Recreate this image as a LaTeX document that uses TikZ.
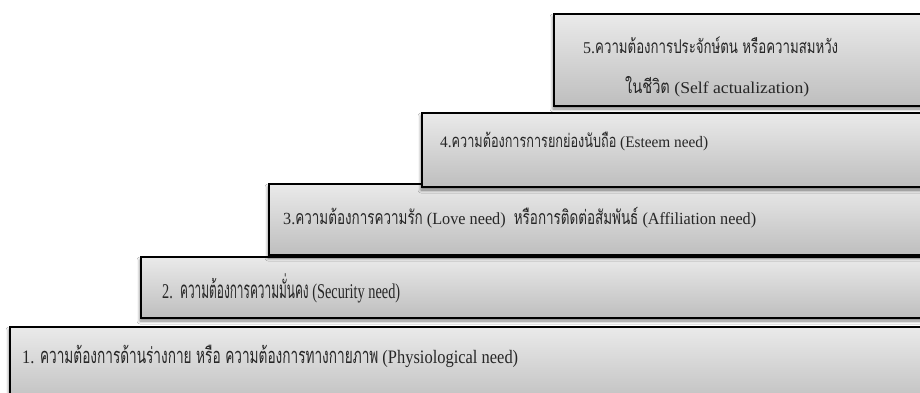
\documentclass[tikz,border=0pt]{standalone}
\usepackage{fontspec}
\usepackage{graphicx}
\setmainfont{Liberation Serif}
\newfontfamily\thaifont[Script=Thai, FakeStretch=0.72, Scale=1.15]{Loma}
\usetikzlibrary{shadows.blur}
\newcommand\thx[1]{{\thaifont #1}}
\newcommand\fitline[2]{\resizebox{#1}{\height}{#2}}
\definecolor{boxtop}{HTML}{EAEAEA}
\definecolor{boxbot}{HTML}{BEBEBE}
\tikzset{
  stepbox/.style={draw=black, line width=1.3pt, top color=boxtop, bottom color=boxbot,
    anchor=north west, inner sep=0pt, outer sep=0pt,
    blur shadow={shadow xshift=-1pt, shadow yshift=-3pt, shadow blur steps=6, shadow opacity=50, shadow blur radius=3pt}},
  steptext/.style={anchor=base west, inner sep=0pt, text=black!85}
}
\begin{document}
\begin{tikzpicture}[x=1pt,y=-1pt]
\useasboundingbox (0,0) rectangle (920,392);
\clip (0,0) rectangle (920,392);
\fill[white] (0,0) rectangle (920,392);
% boxes, bottom to top
\node[stepbox, minimum width=930pt, minimum height=80pt] (b1) at (10,327) {};
\node[stepbox, minimum width=800pt, minimum height=61pt] (b2) at (141,257) {};
\node[stepbox, minimum width=672pt, minimum height=71pt] (b3) at (269,184) {};
\node[stepbox, minimum width=520pt, minimum height=74pt] (b4) at (422,113) {};
\node[stepbox, minimum width=390pt, minimum height=92pt] (b5) at (554,14) {};
% texts
\node[steptext, font=\fontsize{19}{22}\selectfont] (t1) at (22,363)
  {\fitline{496pt}{1. \thx{ความต้องการด้านร่างกาย หรือ ความต้องการทางกายภาพ} (Physiological need)}};
\node[steptext, font=\fontsize{21}{24}\selectfont] (t2) at (162,298)
  {\fitline{238pt}{2.\ \ \thx{ความต้องการความมั่นคง} (Security need)}};
\node[steptext, font=\fontsize{17}{20}\selectfont] (t3) at (283,224)
  {\fitline{473pt}{3.\thx{ความต้องการความรัก} (Love need)\ \ \thx{หรือการติดต่อสัมพันธ์} (Affiliation need)}};
\node[steptext, font=\fontsize{16}{19}\selectfont] (t4) at (440,147)
  {\fitline{268pt}{4.\thx{ความต้องการการยกย่องนับถือ} (Esteem need)}};
\node[steptext, font=\fontsize{16.5}{19}\selectfont] (t5a) at (583,53)
  {\fitline{255pt}{5.\thx{ความต้องการประจักษ์ตน หรือความสมหวัง}}};
\node[steptext, font=\fontsize{16.5}{19}\selectfont] (t5b) at (625,93)
  {\fitline{184pt}{\thx{ในชีวิต} (Self actualization)}};
\end{tikzpicture}
\end{document}
